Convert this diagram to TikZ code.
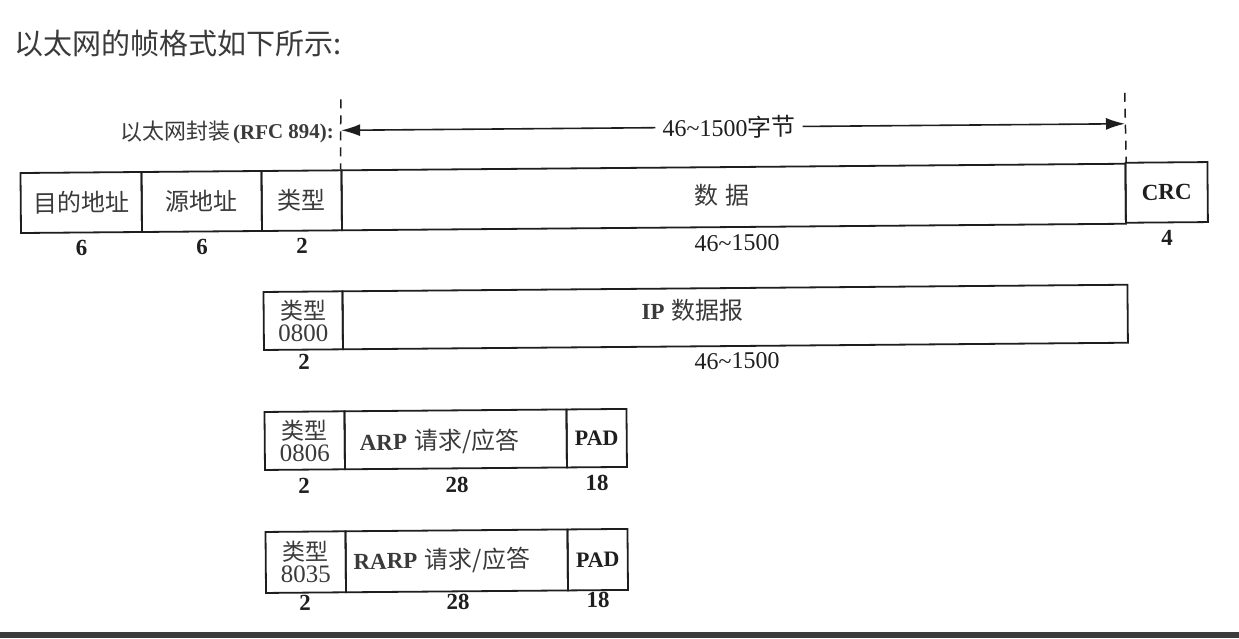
\documentclass[tikz,border=0pt]{standalone}
\usepackage{fontspec}
\setmainfont{Liberation Serif}
\newfontfamily\cjk{Noto Sans CJK SC}
\usetikzlibrary{arrows.meta}
\definecolor{ink}{HTML}{1E1E1E}
\definecolor{cjkgray}{HTML}{3A3A3A}
\definecolor{barc}{HTML}{3C3C3C}
\newcommand{\myfs}[1]{\fontsize{#1}{#1}\selectfont}
\newcommand{\lat}[1]{{\normalfont\bfseries\myfs{23}#1}}
\begin{document}
\begin{tikzpicture}[x=1pt,y=-1pt,
  cell/.style={draw=ink,line width=1.8pt,inner sep=0pt,text=cjkgray,font=\cjk\myfs{24}},
  typecell/.style={cell,align=center,font=\fontsize{24}{22}\selectfont},
  num/.style={inner sep=0pt,text=ink,font=\bfseries\myfs{23}},
  rng/.style={inner sep=0pt,text=ink,font=\myfs{24}},
  lbl/.style={inner sep=0pt,text=cjkgray,font=\cjk\myfs{24}},
  dashline/.style={draw=ink,line width=1.5pt,dash pattern=on 9pt off 7pt},
  span/.style={draw=ink,line width=1.6pt,-{Latex[length=19pt,width=12pt]}}
]
\useasboundingbox (0,0) rectangle (1239,638);
\fill[white] (0,0) rectangle (1239,638);
% title
\node[anchor=west,inner sep=0pt,text=cjkgray,font=\cjk\myfs{29}] (title) at (14,44) {以太网的帧格式如下所示:};
% bottom bar
\fill[barc] (0,632) rectangle (1239,638);

\begin{scope}[rotate around={0.48:(21,233)},transform shape]
% ---- row 1
\node[cell,minimum width=121pt,minimum height=60pt] (dst) at (81.5,203) {目的地址};
\node[cell,minimum width=120pt,minimum height=60pt] (src) at (202,203) {源地址};
\node[cell,minimum width=80pt,minimum height=60pt] (typ) at (302,203) {类型};
\node[cell,minimum width=784pt,minimum height=60pt] (data) at (734,203) {};
\node[cell,minimum width=82pt,minimum height=60pt,text=ink,font=\bfseries\myfs{23}] (crc) at (1167,202) {CRC};
\node[lbl] (datalbl) at (722,201) {数\hspace{0.3em}据};
\node[num] (n1) at (81.5,248) {6};
\node[num] (n2) at (202,248) {6};
\node[num] (n3) at (302,248) {2};
\node[rng] (n4) at (737,249) {46\textasciitilde1500};
\node[num] (n5) at (1167,247) {4};
% span arrow and dashed markers
\coordinate (dl) at (342,102);
\coordinate (dr) at (1126,102);
\draw[dashline] (dl) -- (data.north west);
\draw[dashline] (dr) -- (data.north east);
\node[inner sep=7pt,text=ink,font=\myfs{24}] (spanlbl) at (730,133) {46\textasciitilde1500{\cjk 字节}};
\coordinate (al) at (342,133);
\coordinate (ar) at (1126,133);
\draw[span] (spanlbl.west) -- (al);
\draw[span] (spanlbl.east) -- (ar);
\node[anchor=east,inner sep=0pt,text=cjkgray] (encap) at (335,134) {{\cjk\myfs{22}以太网封装}\hspace{0.25em}{\bfseries\myfs{21}(RFC 894):}};
% ---- row 2
\node[typecell,minimum width=79pt,minimum height=58pt] (t2) at (302.5,323) {{\cjk\myfs{23}类型}\\{\myfs{25}0800}};
\node[cell,minimum width=785pt,minimum height=58pt] (ip) at (734.5,323) {};
\node[lbl] (iplbl) at (692,316) {\lat{IP}\hspace{0.3em}数据报};
\node[num] (m1) at (303,364) {2};
\node[rng] (m2) at (736,367) {46\textasciitilde1500};
% ---- row 3
\node[typecell,minimum width=80pt,minimum height=58pt] (t3) at (303,443) {{\cjk\myfs{23}类型}\\{\myfs{25}0806}};
\node[cell,minimum width=222pt,minimum height=58pt] (arp) at (454,443) {};
\node[cell,minimum width=60pt,minimum height=58pt,text=ink,font=\bfseries\myfs{22}] (pad3) at (595,443) {PAD};
\node[lbl] (arplbl) at (438,445) {\lat{ARP}\hspace{0.3em}请求/应答};
\node[num] (k1) at (302,488) {2};
\node[num] (k2) at (455,489) {28};
\node[num] (k3) at (595,488) {18};
% ---- row 4
\node[typecell,minimum width=80pt,minimum height=61pt] (t4) at (303,564.5) {{\cjk\myfs{23}类型}\\{\myfs{25}8035}};
\node[cell,minimum width=222pt,minimum height=61pt] (rarp) at (454,564.5) {};
\node[cell,minimum width=60pt,minimum height=61pt,text=ink,font=\bfseries\myfs{22}] (pad4) at (595,564.5) {PAD};
\node[lbl] (rarplbl) at (439,564) {\lat{RARP}\hspace{0.3em}请求/应答};
\node[num] (j1) at (302,605) {2};
\node[num] (j2) at (455,606) {28};
\node[num] (j3) at (595,605) {18};
\end{scope}
\end{tikzpicture}
\end{document}
